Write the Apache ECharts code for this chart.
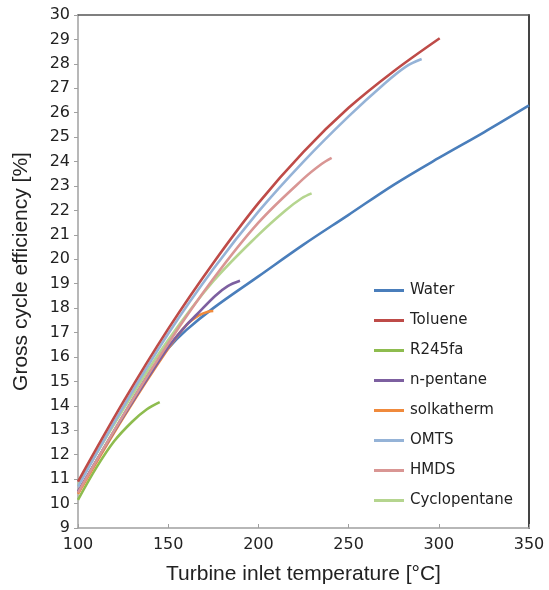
<!DOCTYPE html>
<html>
<head>
<meta charset="utf-8">
<script src="https://cdn.jsdelivr.net/npm/echarts@6/dist/echarts.min.js"></script>
<style>
  html, body { margin: 0; padding: 0; background: #fff; }
  #chart { width: 549px; height: 590px; }
</style>
</head>
<body>
<div id="chart"></div>
<script>
// Gross cycle efficiency [%] versus turbine inlet temperature [°C] per working fluid
const waterT = [100, 125, 140, 150, 160, 175, 200, 225, 250, 275, 300, 325, 350];
const waterEta = [10.45, 13.6, 15.4, 16.35, 17.1, 18.0, 19.3, 20.6, 21.82, 23.05, 24.15, 25.2, 26.3];

const tolueneT = [100, 125, 150, 175, 200, 225, 250, 275, 300.5];
const tolueneEta = [10.9, 14.15, 17.15, 19.85, 22.3, 24.4, 26.2, 27.7, 29.05];

const r245faT = [100, 110, 120, 130, 138, 145.3];
const r245faEta = [10.15, 11.45, 12.55, 13.35, 13.85, 14.15];

const npentaneT = [100, 125, 150, 160, 166, 176, 183, 189.8];
const npentaneEta = [10.5, 13.55, 16.4, 17.3, 17.75, 18.5, 18.9, 19.12];

const solkathermT = [100, 125, 150, 160, 167, 172, 175];
const solkathermEta = [10.4, 13.5, 16.35, 17.3, 17.7, 17.85, 17.88];

const omtsT = [100, 125, 150, 175, 200, 225, 250, 270, 282, 290.5];
const omtsEta = [10.7, 13.95, 16.95, 19.6, 21.95, 24.0, 25.85, 27.2, 27.9, 28.2];

const hmdsT = [100, 125, 150, 175, 200, 225, 235, 240.6];
const hmdsEta = [10.45, 13.6, 16.55, 19.2, 21.5, 23.3, 23.9, 24.15];

const cyclopentaneT = [100, 125, 150, 175, 200, 215, 224, 229.5];
const cyclopentaneEta = [10.75, 13.85, 16.7, 19.1, 21.0, 22.0, 22.5, 22.7];

const xRange = [100, 350];
const yRange = [9, 30];

function pairs(xs, ys) {
  return xs.map((x, i) => [x, ys[i]]);
}

const fluids = [
  { name: 'Water', t: waterT, eta: waterEta, color: '#4a7ebb' },
  { name: 'Toluene', t: tolueneT, eta: tolueneEta, color: '#be4b48' },
  { name: 'R245fa', t: r245faT, eta: r245faEta, color: '#8ebc4f' },
  { name: 'n-pentane', t: npentaneT, eta: npentaneEta, color: '#7d60a0' },
  { name: 'solkatherm', t: solkathermT, eta: solkathermEta, color: '#f08a3c' },
  { name: 'OMTS', t: omtsT, eta: omtsEta, color: '#95b3d7' },
  { name: 'HMDS', t: hmdsT, eta: hmdsEta, color: '#d99694' },
  { name: 'Cyclopentane', t: cyclopentaneT, eta: cyclopentaneEta, color: '#b5d58f' }
];

// stacking order of the curves (later = on top)
const drawOrder = ['Water', 'R245fa', 'solkatherm', 'n-pentane', 'Cyclopentane', 'HMDS', 'OMTS', 'Toluene'];

const series = fluids.map(f => ({
  name: f.name,
  type: 'line',
  data: pairs(f.t, f.eta),
  smooth: 0.35,
  showSymbol: false,
  symbol: 'none',
  z: 2 + drawOrder.indexOf(f.name),
  lineStyle: { color: f.color, width: 2.6 },
  itemStyle: { color: f.color }
}));

const tickFont = 'DejaVu Sans, sans-serif';
const titleFont = 'Liberation Sans, Arial, sans-serif';

const chart = echarts.init(document.getElementById('chart'), null, { renderer: 'canvas' });
chart.setOption({
  animation: false,
  backgroundColor: '#fff',
  grid: { left: 78, right: 20, top: 15, bottom: 59, containLabel: false },
  legend: {
    orient: 'vertical',
    left: 369,
    top: 278,
    icon: 'rect',
    itemWidth: 30,
    itemHeight: 3,
    itemGap: 15,
    textStyle: { fontSize: 15, fontFamily: tickFont, color: '#222', padding: [0, 0, 0, 1] },
    data: fluids.map(f => f.name)
  },
  xAxis: [
    {
      type: 'value',
      min: xRange[0],
      max: xRange[1],
      interval: 50,
      name: 'Turbine inlet temperature [°C]',
      nameLocation: 'middle',
      nameGap: 36,
      nameTextStyle: { fontSize: 21, fontFamily: titleFont, color: '#222' },
      axisLine: { show: true, lineStyle: { color: '#a0a0a0', width: 1.5 } },
      axisTick: { show: true, inside: true, length: 4, lineStyle: { color: '#a0a0a0' } },
      axisLabel: { fontSize: 16, fontFamily: tickFont, color: '#222', margin: 9 },
      splitLine: { show: false }
    },
    {
      type: 'value',
      position: 'top',
      min: xRange[0],
      max: xRange[1],
      axisLine: { show: true, onZero: false, lineStyle: { color: '#555', width: 1.5 } },
      axisTick: { show: false },
      axisLabel: { show: false },
      splitLine: { show: false }
    }
  ],
  yAxis: [
    {
      type: 'value',
      min: yRange[0],
      max: yRange[1],
      interval: 1,
      name: 'Gross cycle efficiency [%]',
      nameLocation: 'middle',
      nameGap: 46,
      nameTextStyle: { fontSize: 21, fontFamily: titleFont, color: '#222' },
      axisLine: { show: true, lineStyle: { color: '#a0a0a0', width: 1.5 } },
      axisTick: { show: true, inside: false, length: 4, lineStyle: { color: '#a0a0a0' } },
      axisLabel: { fontSize: 16, fontFamily: tickFont, color: '#222', margin: 8 },
      splitLine: { show: false }
    },
    {
      type: 'value',
      position: 'right',
      min: yRange[0],
      max: yRange[1],
      axisLine: { show: true, onZero: false, lineStyle: { color: '#444', width: 2 } },
      axisTick: { show: false },
      axisLabel: { show: false },
      splitLine: { show: false }
    }
  ],
  series: series
});
</script>
</body>
</html>
